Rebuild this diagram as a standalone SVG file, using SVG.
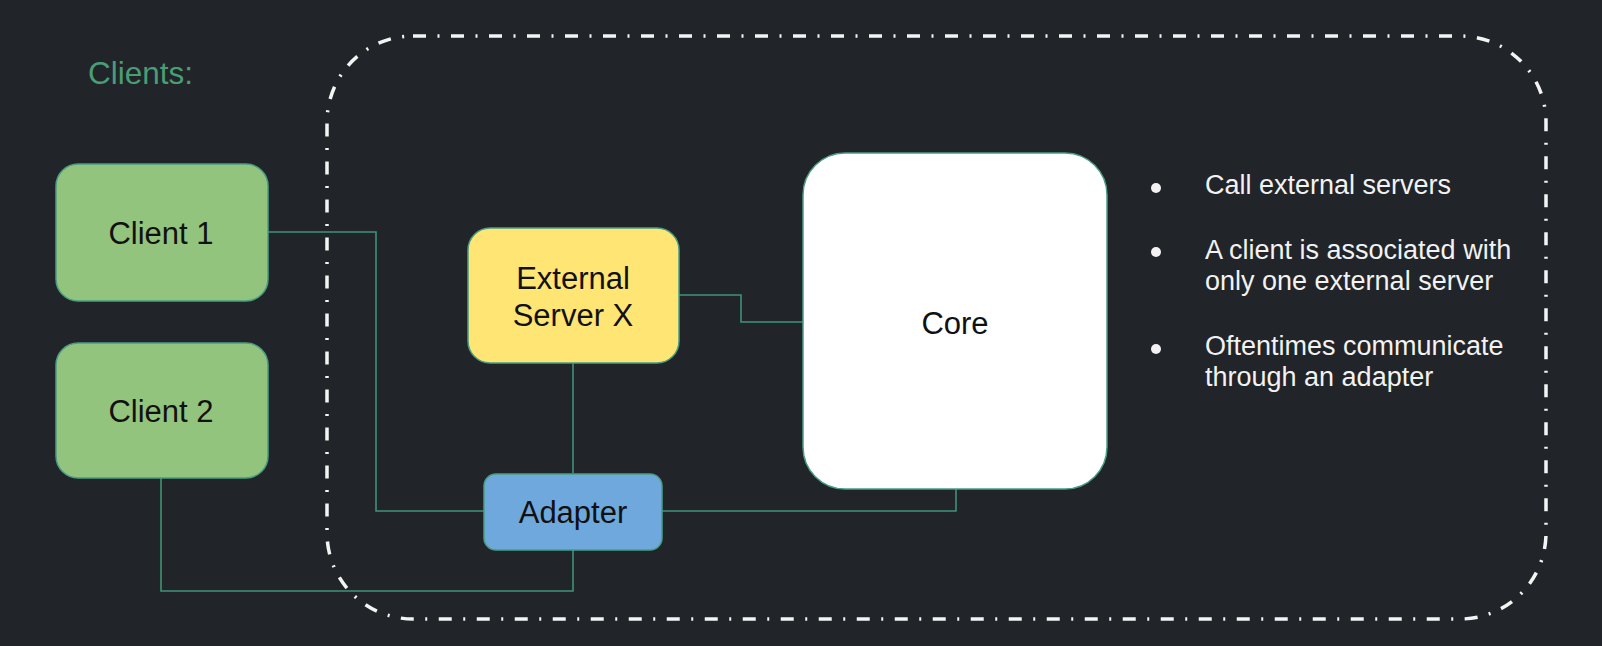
<svg xmlns="http://www.w3.org/2000/svg" width="1602" height="646" viewBox="0 0 1602 646">
<style>
.node{stroke:#4a9d84;stroke-width:1.5}
.lbl{font-family:"Liberation Sans",Arial,sans-serif;font-size:31px;fill:#111;text-anchor:middle}
.conn{fill:none;stroke:#3f9277;stroke-width:1.6}
.bul{font-family:"Liberation Sans",Arial,sans-serif;font-size:27px;fill:#f2f2f2}
</style>
<rect x="0" y="0" width="1602" height="646" fill="#212428"/>
<rect id="boundary" x="327" y="36" width="1219" height="583" rx="86" ry="86" fill="none" stroke="#f4f4f4" stroke-width="3.5" stroke-dasharray="13 11.5 2 11.5"/>
<text id="clients-title" x="88" y="84" font-family="Liberation Sans, Arial, sans-serif" font-size="31.5" fill="#4a9d74">Clients:</text>
<g id="connectors">
<polyline class="conn" points="268,232 376,232 376,511 484,511"/>
<polyline class="conn" points="161,478 161,591 573,591 573,550"/>
<polyline class="conn" points="573,363 573,473"/>
<polyline class="conn" points="679,295 741,295 741,322 803,322"/>
<polyline class="conn" points="662,511 956,511 956,489"/>
</g>
<g id="client1">
<rect class="node" x="56" y="164" width="212" height="137" rx="22" fill="#93c47d"/>
<text class="lbl" x="161" y="244">Client 1</text>
</g>
<g id="client2">
<rect class="node" x="56" y="343" width="212" height="135" rx="22" fill="#93c47d"/>
<text class="lbl" x="161" y="422">Client 2</text>
</g>
<g id="external-server">
<rect class="node" x="468" y="228" width="211" height="135" rx="22" fill="#ffe574"/>
<text class="lbl" x="573" y="289">External</text>
<text class="lbl" x="573" y="326">Server X</text>
</g>
<g id="adapter">
<rect class="node" x="484" y="474" width="178" height="76" rx="12" fill="#6fa8dc"/>
<text class="lbl" x="573" y="523">Adapter</text>
</g>
<g id="core">
<rect class="node" x="803" y="153" width="304" height="336" rx="42" fill="#ffffff"/>
<text class="lbl" x="955" y="334">Core</text>
</g>
<g id="notes">
<circle cx="1156" cy="188" r="5" fill="#f2f2f2"/>
<text class="bul" x="1205" y="194">Call external servers</text>
<circle cx="1156" cy="252" r="5" fill="#f2f2f2"/>
<text class="bul" x="1205" y="259">A client is associated with</text>
<text class="bul" x="1205" y="290">only one external server</text>
<circle cx="1156" cy="349" r="5" fill="#f2f2f2"/>
<text class="bul" x="1205" y="355">Oftentimes communicate</text>
<text class="bul" x="1205" y="386">through an adapter</text>
</g>
</svg>
